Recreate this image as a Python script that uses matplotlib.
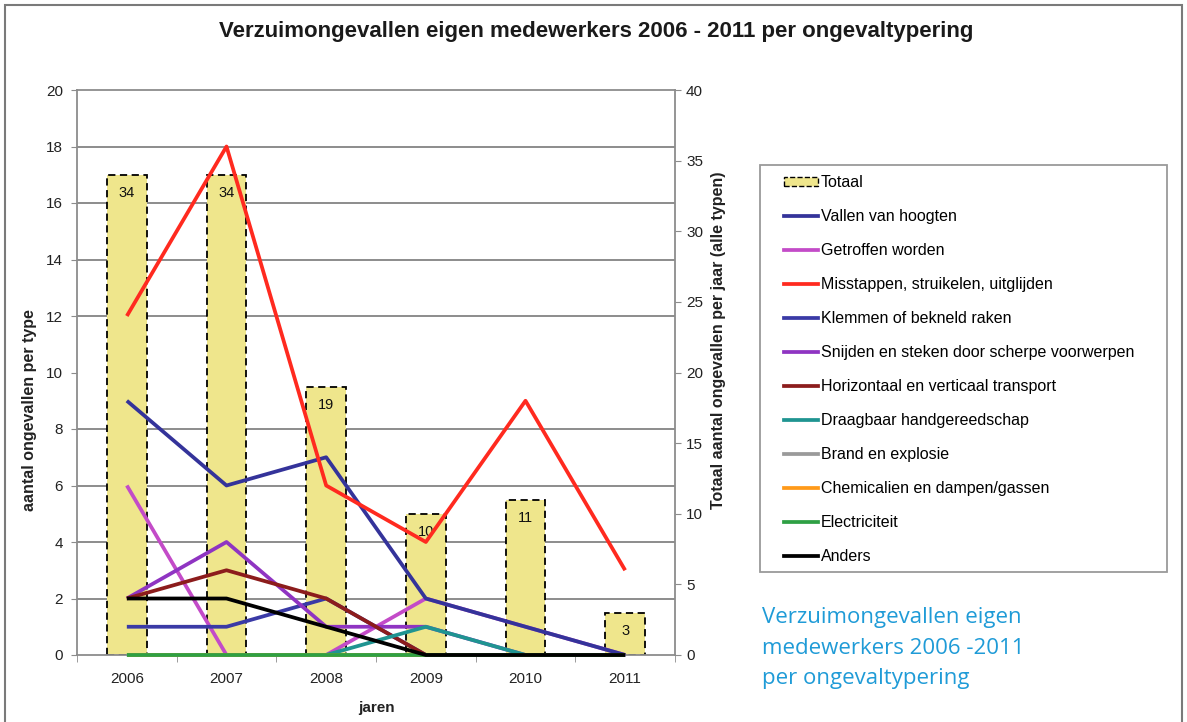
import numpy as np
import matplotlib
matplotlib.use('Agg')
import matplotlib.pyplot as plt
from matplotlib.patches import Rectangle, Patch
from matplotlib.lines import Line2D

plt.rcParams['font.family'] = ['Liberation Sans', 'DejaVu Sans']

# ── data ──────────────────────────────────────────────────────────────────────
years = ['2006', '2007', '2008', '2009', '2010', '2011']
totals = [34, 34, 19, 10, 11, 3]

series_names = [
    'Vallen van hoogten',
    'Getroffen worden',
    'Misstappen, struikelen, uitglijden',
    'Klemmen of bekneld raken',
    'Snijden en steken door scherpe voorwerpen',
    'Horizontaal en verticaal transport',
    'Draagbaar handgereedschap',
    'Brand en explosie',
    'Chemicalien en dampen/gassen',
    'Electriciteit',
    'Anders',
]
vallen = [9, 6, 7, 2, 1, 0]
getroffen = [6, 0, 0, 2, 1, 0]
misstappen = [12, 18, 6, 4, 9, 3]
klemmen = [1, 1, 2, 0, 0, 0]
snijden = [2, 4, 1, 1, 0, 0]
transport = [2, 3, 2, 0, 0, 0]
handgereedschap = [0, 0, 0, 1, 0, 0]
brand = [0, 0, 0, 0, 0, 0]
chemicalien = [0, 0, 0, 0, 0, 0]
electriciteit = [0, 0, 0, 0, 0, 0]
anders = [2, 2, 1, 0, 0, 0]

series_values = [vallen, getroffen, misstappen, klemmen, snijden, transport,
                 handgereedschap, brand, chemicalien, electriciteit, anders]
series_colors = ['#34339a', '#c34bc8', '#ff2a1f', '#3a3aa6', '#8f34c2', '#8c1c1c',
                 '#1f9491', '#9a9a9a', '#ff9a1a', '#2ea044', '#000000']

GRID = '#8c8c8c'
TXT = '#222222'

# ── figure ────────────────────────────────────────────────────────────────────
fig = plt.figure(figsize=(11.87, 7.22), dpi=100, facecolor='white')

W, H = 1187, 722
def fx(px): return px / W
def fy(py): return 1 - py / H

ax_bar = fig.add_axes([fx(77), fy(655), fx(675) - fx(77), fy(90) - fy(655)])
ax = ax_bar.twinx()

x = np.arange(len(years))

# bars (right scale)
bars = ax_bar.bar(x, totals, width=0.4, color='#efe68c', edgecolor='black',
                  linestyle=(0, (4, 2.5)), linewidth=1.3, zorder=2)
ax_bar.bar_label(bars, padding=-18, fontsize=10.5, color='#111111')
ax_bar.set_ylim(0, 40)
ax_bar.set_xlim(-0.5, len(years) - 0.5)
ax_bar.set_yticks(np.arange(0, 41, 5))
ax_bar.set_yticks(np.arange(0, 41, 4), minor=True)
ax_bar.grid(which='minor', axis='y', color=GRID, linewidth=1.4)
ax_bar.set_axisbelow(True)
ax_bar.yaxis.tick_right()
ax_bar.tick_params(axis='y', which='major', length=4, pad=4, colors=GRID,
                   labelcolor=TXT, labelsize=11)
ax_bar.tick_params(axis='y', which='minor', length=0)
ax_bar.set_xticks(x)
ax_bar.set_xticklabels(years)
ax_bar.set_xticks(np.arange(-0.5, len(years), 1), minor=True)
ax_bar.tick_params(axis='x', which='major', length=0, pad=12, labelsize=11,
                   labelcolor=TXT)
ax_bar.tick_params(axis='x', which='minor', length=5, color=GRID)
for s in ax_bar.spines.values():
    s.set_color(GRID)
    s.set_linewidth(1.3)

# lines (left scale)
for i, (name, vals, col) in enumerate(zip(series_names, series_values, series_colors)):
    z = 3 + i
    if name == 'Getroffen worden':
        z = 2.5
    ax.plot(x, vals, color=col, linewidth=2.7, label=name, zorder=z,
            clip_on=False, solid_capstyle='butt')
ax.set_ylim(0, 20)
ax.set_yticks(np.arange(0, 21, 2))
ax.yaxis.tick_left()
ax.tick_params(axis='y', length=4, pad=6, colors=GRID, labelcolor=TXT, labelsize=11)
for s in ax.spines.values():
    s.set_visible(False)

# axis labels
fig.text(fx(30), fy(410), 'aantal ongevallen per type', rotation=90, ha='center',
         va='center', fontsize=11.5, fontweight='bold', color=TXT)
fig.text(fx(719), fy(340), 'Totaal aantal ongevallen per jaar (alle typen)', rotation=90,
         ha='center', va='center', fontsize=11.5, fontweight='bold', color=TXT)
fig.text(fx(376), fy(708), 'jaren', ha='center', va='center', fontsize=11,
         fontweight='bold', color=TXT)

# title
fig.text(fx(596), fy(32), 'Verzuimongevallen eigen medewerkers 2006 - 2011 per ongevaltypering',
         ha='center', va='center', fontsize=16, fontweight='bold', color='#1a1a1a')

# legend box + legend
fig.patches.append(Rectangle((fx(760), fy(572)), fx(1167) - fx(760), fy(165) - fy(572),
                             transform=fig.transFigure, facecolor='white',
                             edgecolor='#9a9a9a', linewidth=1.3, zorder=1))
handles = [Patch(facecolor='#efe68c', edgecolor='black', linestyle='--', linewidth=1.0)]
handles += [Line2D([], [], color=c, linewidth=2.7) for c in series_colors]
labels = ['Totaal'] + series_names
fig.legend(handles, labels, loc='upper left', bbox_to_anchor=(fx(784), fy(175)),
           frameon=False, fontsize=11.5, labelspacing=1.19, handlelength=2.1,
           handletextpad=0.2, borderpad=0, borderaxespad=0, handleheight=0.5)

# blue caption
fig.text(fx(762), fy(607), 'Verzuimongevallen eigen\nmedewerkers 2006 -2011\nper ongevaltypering',
         ha='left', va='top', fontsize=16, color='#1f9bd7', linespacing=1.6,
         family=['Open Sans', 'DejaVu Sans'])

# outer frame
fig.patches.append(Rectangle((fx(5), -0.02), fx(1182) - fx(5), fy(5) + 0.02,
                             transform=fig.transFigure, fill=False,
                             edgecolor='#7a7a7a', linewidth=1.5, zorder=0))

fig.savefig('out.png', dpi=100, facecolor='white')
